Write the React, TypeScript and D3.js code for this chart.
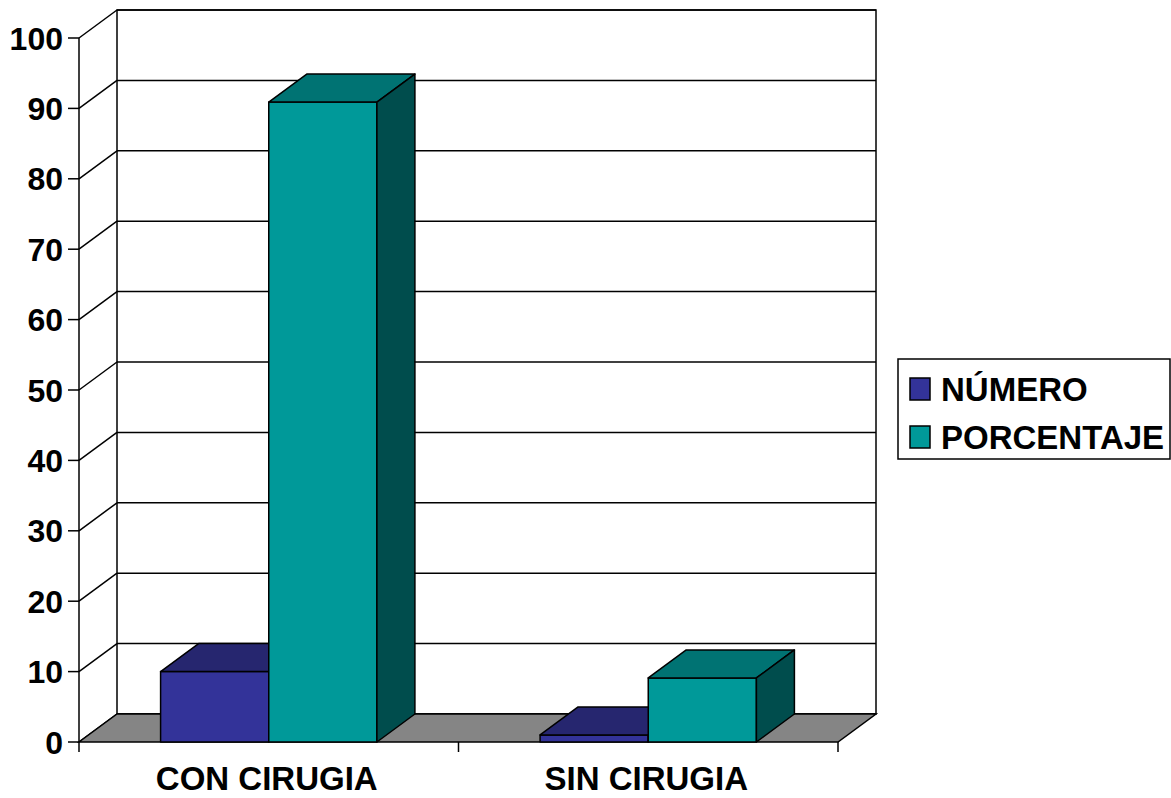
import React, { useEffect, useRef } from 'react';
import * as d3 from 'd3';

const categories = ['CON CIRUGIA', 'SIN CIRUGIA'];
const series = ['NÚMERO', 'PORCENTAJE'];
const numero = [10, 1];
const porcentaje = [90.9, 9.1];
const yTicks = [0, 10, 20, 30, 40, 50, 60, 70, 80, 90, 100];

const colors = {
  'NÚMERO': { front: '#333399', top: '#26266f', side: '#1f1f5c' },
  'PORCENTAJE': { front: '#009999', top: '#007373', side: '#004d4d' },
};

const App = () => {
  const ref = useRef<SVGSVGElement>(null);

  useEffect(() => {
    if (!ref.current) return;
    const svg = d3.select(ref.current);
    svg.selectAll('*').remove();

    const font = "'Liberation Sans', Arial, sans-serif";
    const dx = 38, dy = 28;
    const x0 = 79, x1 = 838;
    const y = d3.scaleLinear().domain([0, 100]).range([742, 38]);
    const x = d3.scaleBand().domain(categories).range([x0, x1]).paddingInner(0.43).paddingOuter(0.215);
    const xs = d3.scaleBand().domain(series).range([0, x.bandwidth()]);

    const poly = (pts: number[][]) => 'M' + pts.map(p => p.join(',')).join('L') + 'Z';

    // back wall
    svg.append('rect').attr('x', x0 + dx).attr('y', y(100) - dy)
      .attr('width', x1 - x0).attr('height', y(0) - y(100))
      .attr('fill', '#fff').attr('stroke', '#000').attr('stroke-width', 1.5);

    // gridlines on back wall and left wall
    yTicks.forEach(t => {
      svg.append('line').attr('x1', x0 + dx).attr('x2', x1 + dx)
        .attr('y1', y(t) - dy).attr('y2', y(t) - dy)
        .attr('stroke', '#000').attr('stroke-width', 1.5);
      svg.append('line').attr('x1', x0).attr('x2', x0 + dx)
        .attr('y1', y(t)).attr('y2', y(t) - dy)
        .attr('stroke', '#000').attr('stroke-width', 1.5);
    });

    // left axis
    svg.append('line').attr('x1', x0).attr('x2', x0).attr('y1', y(100)).attr('y2', y(0))
      .attr('stroke', '#000').attr('stroke-width', 1.5);

    // floor
    svg.append('path')
      .attr('d', poly([[x0, y(0)], [x1, y(0)], [x1 + dx, y(0) - dy], [x0 + dx, y(0) - dy]]))
      .attr('fill', '#858585').attr('stroke', '#000').attr('stroke-width', 1.5);

    // y ticks + labels
    yTicks.forEach(t => {
      svg.append('line').attr('x1', x0 - 11).attr('x2', x0).attr('y1', y(t)).attr('y2', y(t))
        .attr('stroke', '#000').attr('stroke-width', 1.5);
      svg.append('text').attr('x', 63).attr('y', y(t)).attr('dy', '0.36em')
        .attr('text-anchor', 'end').attr('font-family', font).attr('font-weight', 'bold')
        .attr('font-size', 32).attr('fill', '#000').text(t);
    });

    // x ticks
    [x0, x1, ...categories.slice(1).map(c => (x(c) as number) - x.step() * x.paddingInner() / 2)].forEach(px => {
      svg.append('line').attr('x1', px).attr('x2', px).attr('y1', y(0)).attr('y2', y(0) + 10)
        .attr('stroke', '#000').attr('stroke-width', 1.5);
    });

    // bars
    const values: Record<string, number[]> = { 'NÚMERO': numero, 'PORCENTAJE': porcentaje };
    categories.forEach((c, i) => {
      series.forEach(s => {
        const v = values[s][i];
        const bx = (x(c) as number) + (xs(s) as number);
        const bw = xs.bandwidth();
        const top = y(v), base = y(0);
        const col = colors[s as keyof typeof colors];
        const g = svg.append('g').attr('stroke', '#000').attr('stroke-width', 1.5).attr('stroke-linejoin', 'round');
        g.append('path').attr('d', poly([[bx, base], [bx + bw, base], [bx + bw, top], [bx, top]])).attr('fill', col.front);
        g.append('path').attr('d', poly([[bx, top], [bx + bw, top], [bx + bw + dx, top - dy], [bx + dx, top - dy]])).attr('fill', col.top);
        g.append('path').attr('d', poly([[bx + bw, base], [bx + bw + dx, base - dy], [bx + bw + dx, top - dy], [bx + bw, top]])).attr('fill', col.side);
      });
      svg.append('text').attr('x', (x(c) as number) + x.bandwidth() / 2 - 2).attr('y', 790)
        .attr('text-anchor', 'middle').attr('font-family', font).attr('font-weight', 'bold')
        .attr('font-size', 33).attr('fill', '#000').text(c);
    });

    // legend
    const lg = svg.append('g');
    lg.append('rect').attr('x', 898).attr('y', 359).attr('width', 272).attr('height', 100)
      .attr('fill', '#fff').attr('stroke', '#000').attr('stroke-width', 1.5);
    series.forEach((s, i) => {
      const ly = 389 + i * 48;
      lg.append('rect').attr('x', 910).attr('y', ly - 11).attr('width', 20).attr('height', 22)
        .attr('fill', colors[s as keyof typeof colors].front).attr('stroke', '#000').attr('stroke-width', 1.5);
      lg.append('text').attr('x', 941).attr('y', ly).attr('dy', '0.36em')
        .attr('font-family', font).attr('font-weight', 'bold').attr('font-size', 33)
        .attr('fill', '#000').text(s);
    });
  }, []);

  return (
    <svg ref={ref} width={1171} height={798}
      style={{ position: 'absolute', left: 0, top: 0, background: '#fff' }} />
  );
};

export default App;
